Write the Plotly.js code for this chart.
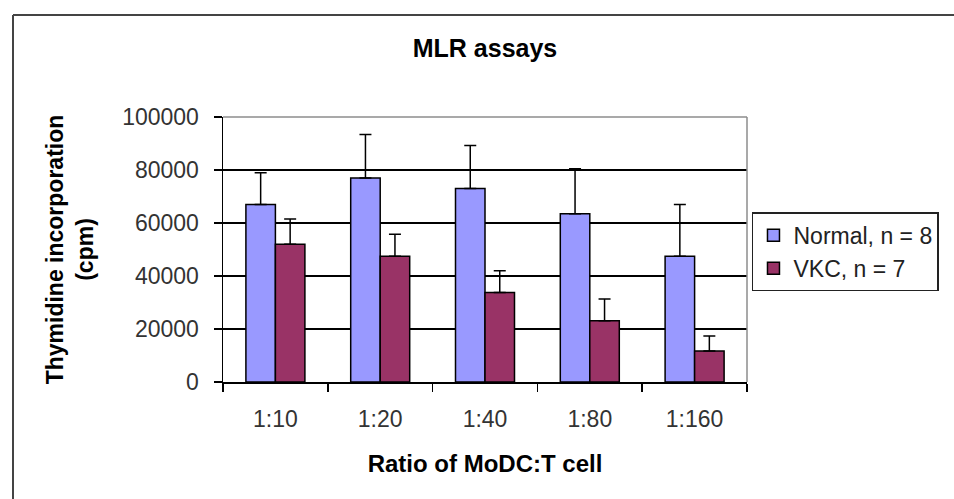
<!DOCTYPE html>
<html>
<head>
<meta charset="utf-8">
<script src="https://cdn.plot.ly/plotly-3.0.1.min.js"></script>
<style>
  html, body { margin: 0; padding: 0; background: #fff; }
  #chart { width: 954px; height: 499px; }
</style>
</head>
<body>
<div id="chart"></div>
<script>
const categories = ["1:10", "1:20", "1:40", "1:80", "1:160"];
const normalValues = [67000, 77000, 73000, 63500, 47500];
const normalErrors = [12000, 16400, 16200, 17000, 19500];
const vkcValues = [52000, 47500, 33800, 23100, 11700];
const vkcErrors = [9500, 8300, 8200, 8200, 5700];
const yTicks = [0, 20000, 40000, 60000, 80000, 100000];
const seriesNames = ["Normal, n = 8", "VKC, n = 7"];

const zeros = categories.map(() => 0);

const traces = [
  {
    type: "bar",
    name: seriesNames[0],
    x: categories,
    y: normalValues,
    marker: { color: "#9999FF", line: { color: "#000000", width: 1.5 } },
    error_y: { type: "data", symmetric: false, array: normalErrors, arrayminus: zeros,
               color: "#000000", thickness: 1.5, width: 6 }
  },
  {
    type: "bar",
    name: seriesNames[1],
    x: categories,
    y: vkcValues,
    marker: { color: "#993366", line: { color: "#000000", width: 1.5 } },
    error_y: { type: "data", symmetric: false, array: vkcErrors, arrayminus: zeros,
               color: "#000000", thickness: 1.5, width: 6 }
  }
];

const layout = {
  width: 954,
  height: 499,
  margin: { l: 223, r: 207, t: 117, b: 117 },
  paper_bgcolor: "#ffffff",
  plot_bgcolor: "#ffffff",
  font: { family: "Liberation Sans, Arial, sans-serif", color: "#222222" },
  title: {
    text: "<b>MLR assays</b>",
    font: { size: 25, color: "#000000", family: "Liberation Sans, Arial, sans-serif" },
    x: 0.5, xref: "paper", xanchor: "center",
    y: 1 - 48 / 499, yref: "container", yanchor: "middle"
  },
  barmode: "group",
  bargap: 0.437,
  bargroupgap: 0,
  showlegend: true,
  legend: {
    x: 1.0095, xanchor: "left",
    y: 0.64, yanchor: "top",
    bordercolor: "#222222", borderwidth: 1.5,
    bgcolor: "#ffffff",
    font: { size: 23, color: "#222222" },
    itemwidth: 30,
    tracegroupgap: 0
  },
  xaxis: {
    type: "category",
    tickvals: categories,
    ticktext: categories,
    tickson: "boundaries",
    ticks: "outside", ticklen: 8, tickwidth: 1.5, tickcolor: "#000000",
    showline: true, linecolor: "#000000", linewidth: 1.5,
    showgrid: false,
    tickfont: { size: 23, color: "#333333" },
    ticklabelstandoff: 16,
    title: { text: "<b>Ratio of MoDC:T cell</b>", font: { size: 24, color: "#000000" }, standoff: 24 },
    automargin: false
  },
  yaxis: {
    range: [0, 100000],
    tickvals: yTicks,
    ticktext: yTicks.map(String),
    ticks: "outside", ticklen: 8, tickwidth: 1.5, tickcolor: "#000000",
    showline: true, linecolor: "#000000", linewidth: 1.5,
    showgrid: true, gridcolor: "#000000", gridwidth: 1.5,
    zeroline: false,
    tickfont: { size: 23, color: "#333333" },
    ticklabelstandoff: 10,
    title: { text: "<b>Thymidine incorporation<br>(cpm)</b>", font: { size: 23, color: "#000000" }, standoff: 22 },
    automargin: false
  },
  shapes: [
    { type: "line", xref: "paper", yref: "paper", x0: 0, x1: 1, y0: 1, y1: 1,
      line: { color: "#8c8c8c", width: 1.5 } },
    { type: "line", xref: "paper", yref: "paper", x0: 1, x1: 1, y0: 0, y1: 1,
      line: { color: "#8c8c8c", width: 1.5 } },
    { type: "line", xref: "paper", yref: "paper",
      x0: (13 - 223) / 524, x1: (13 - 223) / 524, y0: (382 - 15) / 265, y1: (382 - 520) / 265,
      line: { color: "#444444", width: 2 } },
    { type: "line", xref: "paper", yref: "paper",
      x0: (13 - 223) / 524, x1: (970 - 223) / 524, y0: (382 - 15) / 265, y1: (382 - 15) / 265,
      line: { color: "#444444", width: 2 } }
  ]
};

Plotly.newPlot("chart", traces, layout, { displayModeBar: false, staticPlot: true });
</script>
</body>
</html>
